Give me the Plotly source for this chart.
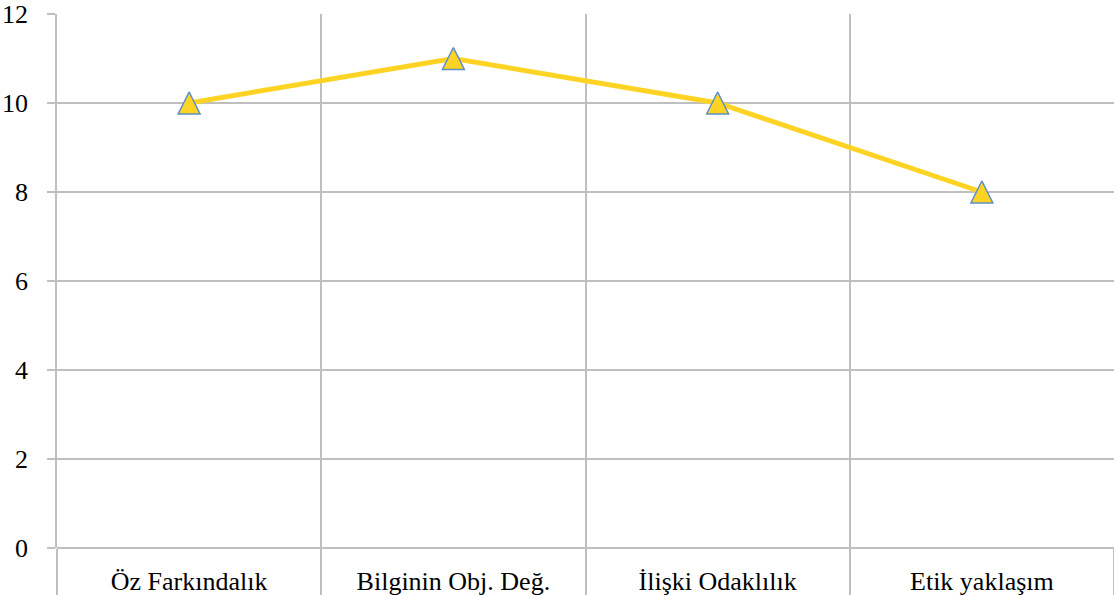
import plotly.graph_objects as go

categories = ["Öz Farkındalık", "Bilginin Obj. Değ.", "İlişki Odaklılık", "Etik yaklaşım"]
values = [10, 11, 10, 8]
y_ticks = [0, 2, 4, 6, 8, 10, 12]

GRID = "#BFBFBF"
GOLD = "#FFD324"
BLUE = "#5B8FC9"
FONT = dict(family="Liberation Serif", size=26, color="#000000")

fig = go.Figure()
# connecting line
fig.add_trace(go.Scatter(
    x=categories,
    y=values,
    mode="lines",
    line=dict(color=GOLD, width=5),
    hoverinfo="skip",
    showlegend=False,
))
# triangle markers (tall triangle, centred on each point)
fig.add_trace(go.Scatter(
    x=categories,
    y=values,
    mode="markers",
    marker=dict(
        symbol="arrow-down",
        angle=180,
        size=22,
        standoff=11,
        color=GOLD,
        line=dict(color=BLUE, width=1.5),
    ),
    hoverinfo="x+y",
    showlegend=False,
))

fig.update_layout(
    width=1114,
    height=595,
    margin=dict(l=57, r=0, t=14, b=47),
    paper_bgcolor="white",
    plot_bgcolor="white",
    font=FONT,
    showlegend=False,
)

fig.update_xaxes(
    type="category",
    range=[-0.5, 3.5],
    tickson="boundaries",
    showgrid=True,
    gridcolor=GRID,
    gridwidth=1.5,
    ticks="outside",
    ticklen=47,
    tickwidth=1.5,
    tickcolor=GRID,
    ticklabelstandoff=15,
    showline=False,
    tickfont=FONT,
)

fig.update_yaxes(
    range=[0, 12],
    tickvals=y_ticks,
    ticktext=[str(v) for v in y_ticks],
    showgrid=True,
    gridcolor=GRID,
    gridwidth=1.5,
    zeroline=True,
    zerolinecolor=GRID,
    zerolinewidth=1.5,
    showline=True,
    linecolor=GRID,
    linewidth=1.5,
    ticks="outside",
    ticklen=8,
    tickwidth=1.5,
    tickcolor=GRID,
    ticklabelstandoff=14,
    tickfont=FONT,
)

fig.write_html("out.html")
